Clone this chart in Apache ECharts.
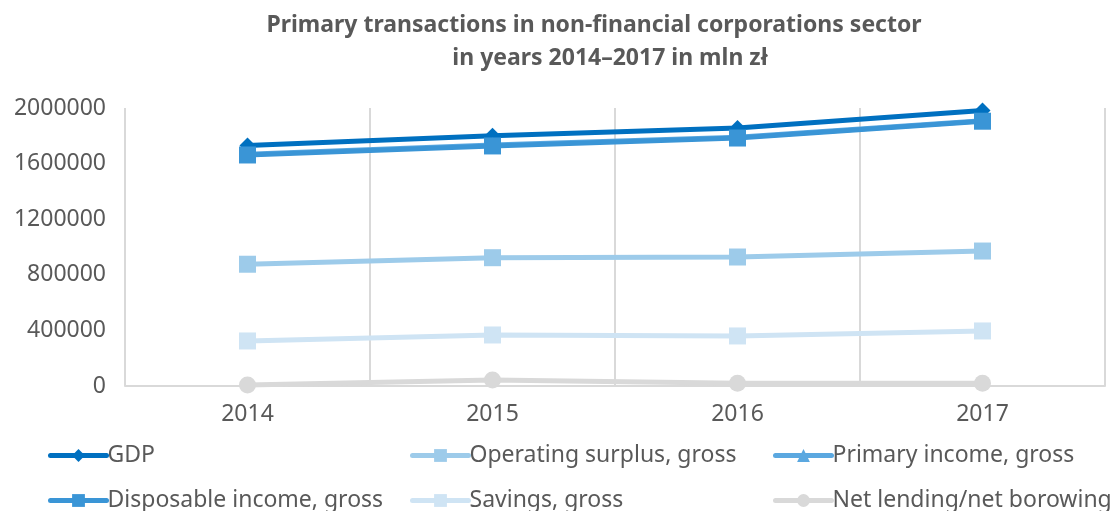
<!DOCTYPE html>
<html>
<head>
<meta charset="utf-8">
<script src="https://cdn.jsdelivr.net/npm/echarts@6/dist/echarts.min.js"></script>
<style>
  html, body { margin: 0; padding: 0; background: #fff; }
  #chart { width: 1119px; height: 511px; }
</style>
</head>
<body>
<div id="chart"></div>
<script>
var years = ['2014', '2015', '2016', '2017']
var gdp = [1730000, 1800000, 1856000, 1982000]
var operatingSurplus = [876000, 923000, 928000, 971000]
var primaryIncome = [1668000, 1734000, 1790000, 1908000]
var disposableIncome = [1662000, 1727000, 1784000, 1905000]
var savings = [324000, 367000, 360000, 396000]
var netLending = [7000, 43000, 19000, 19000]

var font = '"Noto Sans", "Open Sans", sans-serif'
var textColor = '#595959'

function line(name, data, color, symbol, size) {
  return {
    name: name,
    type: 'line',
    data: data,
    symbol: symbol,
    symbolSize: size,
    showAllSymbol: true,
    lineStyle: { color: color, width: 5 },
    itemStyle: { color: color, borderWidth: 0 },
    emphasis: { disabled: true }
  }
}

// one legend per entry so the 3x2 grid sits where the reference has it
function legendItem(name, left, top) {
  return {
    data: [name],
    left: left,
    top: top,
    orient: 'horizontal',
    itemWidth: 56,
    itemHeight: 16,
    itemGap: 0,
    padding: 0,
    lineStyle: { width: 5, cap: 'round' },
    textStyle: { fontFamily: font, fontSize: 23, color: textColor, padding: [0, 0, 0, -4] }
  }
}

var chart = echarts.init(document.getElementById('chart'))
chart.setOption({
  animation: false,
  title: [
    {
      text: 'Primary transactions in non-financial corporations sector',
      left: 589, top: 9, textAlign: 'center',
      textStyle: { fontFamily: font, fontSize: 23, fontWeight: 'bold', color: textColor }
    },
    {
      text: 'in years 2014–2017 in mln zł',
      left: 605, top: 42, textAlign: 'center',
      textStyle: { fontFamily: font, fontSize: 23, fontWeight: 'bold', color: textColor }
    }
  ],
  legend: [
    legendItem('GDP', 48, 444),
    legendItem('Operating surplus, gross', 410, 444),
    legendItem('Primary income, gross', 773, 444),
    legendItem('Disposable income, gross', 48, 489),
    legendItem('Savings, gross', 410, 489),
    legendItem('Net lending/net borowing', 773, 489)
  ],
  grid: { left: 125, right: 14, top: 108, bottom: 125 },
  xAxis: {
    type: 'category',
    data: years,
    boundaryGap: true,
    axisLine: { lineStyle: { color: '#d9d9d9', width: 2 } },
    axisTick: { show: false },
    axisLabel: { fontFamily: font, fontSize: 23, color: textColor, margin: 17 },
    splitLine: { show: true, showMinLine: true, showMaxLine: true, lineStyle: { color: '#d9d9d9', width: 2 } }
  },
  yAxis: {
    type: 'value',
    min: 0,
    max: 2000000,
    interval: 400000,
    axisLine: { show: false },
    axisTick: { show: false },
    splitLine: { show: false },
    axisLabel: {
      fontFamily: font, fontSize: 23, color: textColor, margin: 19,
      formatter: function (v) { return String(v) }
    }
  },
  series: [
    line('GDP', gdp, '#0070c0', 'diamond', 16),
    line('Operating surplus, gross', operatingSurplus, '#9dcbea', 'rect', 17),
    line('Primary income, gross', primaryIncome, '#5ba8e0', 'triangle', 15),
    line('Disposable income, gross', disposableIncome, '#3a95d6', 'rect', 17),
    line('Savings, gross', savings, '#cfe4f4', 'rect', 17),
    line('Net lending/net borowing', netLending, '#d9d9d9', 'circle', 17)
  ]
})
</script>
</body>
</html>
